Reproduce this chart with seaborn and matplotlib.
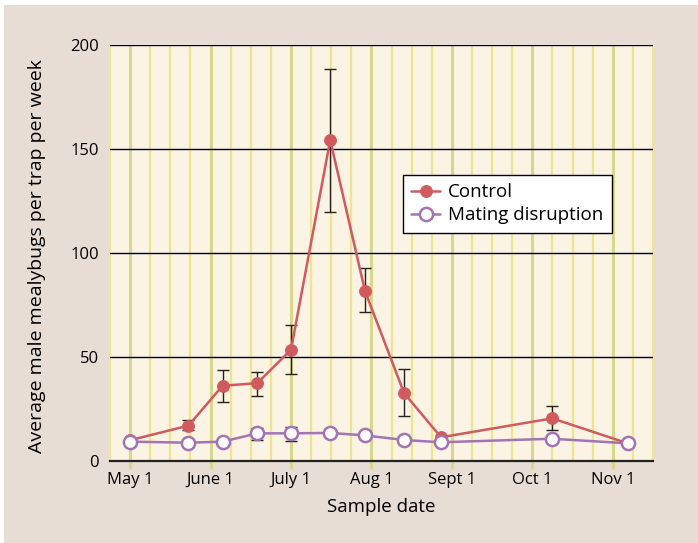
import matplotlib
matplotlib.use("Agg")
import matplotlib.pyplot as plt
import seaborn as sns
import pandas as pd
from matplotlib.patches import Rectangle

# ---- data (x = weeks since May 1) ----
weeks = [0, 2.9, 4.6, 6.32, 8.0, 9.95, 11.68, 13.62, 15.46, 20.99, 24.74]
control = [10, 17, 36.2, 37.4, 53.5, 154.3, 81.7, 32.7, 11.4, 20.5, 8.5]
control_hi = [None, 19.5, 43.8, 42.8, 65.2, 188.6, 92.8, 44.1, None, 26.3, None]
control_lo = [None, 15.0, 28.4, 31.1, 42.0, 119.6, 71.6, 21.5, None, 14.9, None]
mating = [9.3, 8.8, 9.3, 13.3, 13.3, 13.5, 12.3, 10.1, 9.0, 10.7, 8.5]
mating_hi = [None, None, None, 16.0, 16.5, None, None, None, None, None, None]
mating_lo = [None, None, None, 10.1, 9.6, None, None, None, None, None, None]
month_labels = ["May 1", "June 1", "July 1", "Aug 1", "Sept 1", "Oct 1", "Nov 1"]
month_pos = [0, 4, 8, 12, 16, 20, 24]
series_names = ["Control", "Mating disruption"]

sns.set_style("white")
plt.rcParams["font.family"] = ["Open Sans", "DejaVu Sans"]
for k in ["text.color", "axes.labelcolor", "xtick.color", "ytick.color"]:
    plt.rcParams[k] = "black"

fig = plt.figure(figsize=(6.98, 5.43), dpi=100)
fig.patch.set_facecolor("white")
fig.patches.append(Rectangle((4 / 698, 0), 1, 1 - 5 / 543, transform=fig.transFigure,
                             facecolor="#e8ddd4", edgecolor="none", zorder=-10))
ax = fig.add_axes([110 / 698, 1 - 461 / 543, (653 - 110) / 698, (461 - 45) / 543])
ax.set_facecolor("#fbf3e4")

df = pd.DataFrame({
    "week": weeks * 2,
    "value": control + mating,
    "series": [series_names[0]] * len(weeks) + [series_names[1]] * len(weeks),
})

red = "#d05a5e"
purple = "#a374b3"

# error bars
for vals, hi, lo in [(control, control_hi, control_lo), (mating, mating_hi, mating_lo)]:
    xs, ys, el, eh = [], [], [], []
    for x, v, h, l in zip(weeks, vals, hi, lo):
        if h is not None:
            xs.append(x); ys.append(v); el.append(v - l); eh.append(h - v)
    ax.errorbar(xs, ys, yerr=[el, eh], fmt="none", ecolor="#222222",
                elinewidth=1.0, capsize=4, capthick=1.0, zorder=2)

sns.lineplot(data=df[df.series == series_names[0]], x="week", y="value", ax=ax,
             color=red, lw=1.8, marker="o", markersize=8.5, markeredgecolor=red,
             markerfacecolor=red, label=series_names[0], zorder=3)
sns.lineplot(data=df[df.series == series_names[1]], x="week", y="value", ax=ax,
             color=purple, lw=1.8, marker="o", markersize=9.5, markeredgecolor=purple,
             markeredgewidth=1.8, markerfacecolor="white", label=series_names[1], zorder=4)

ax.set_xlim(-1, 26.0)
ax.set_ylim(0, 200)
ax.set_xticks(month_pos)
ax.set_xticklabels(month_labels)
ax.set_xticks(list(range(-1, 27)), minor=True)
ax.set_yticks([0, 50, 100, 150, 200])

ax.grid(False)
ax.xaxis.grid(True, which="minor", color="#efe58c", lw=1.6)
ax.xaxis.grid(True, which="major", color="#d9d88a", lw=2.2)
ax.yaxis.grid(True, which="major", color="black", lw=1.0)
ax.set_axisbelow(True)

ax.tick_params(axis="x", which="major", length=6, width=2.2, color="#d9d88a",
               direction="out", labelsize=12, pad=2, bottom=True)
ax.tick_params(axis="x", which="minor", length=0)
ax.tick_params(axis="y", length=0, labelsize=12, pad=8)

for s in ["left", "right", "top"]:
    ax.spines[s].set_visible(False)
ax.spines["bottom"].set_color("#222222")
ax.spines["bottom"].set_linewidth(1.6)
ax.spines["bottom"].set_zorder(5)

ax.set_xlabel("Sample date", fontsize=13.5, labelpad=7)
ax.set_ylabel("Average male mealybugs per trap per week", fontsize=14)
ax.yaxis.set_label_coords(-0.118, 0.492)

leg = ax.legend(loc="upper left", bbox_to_anchor=((403 - 110) / 543, 1 - (175 - 45) / 416),
                borderaxespad=0, fontsize=13.5, frameon=True, fancybox=False, framealpha=1,
                edgecolor="black", borderpad=0.45, handlelength=1.5, handletextpad=0.45,
                labelspacing=0.25)
leg.get_frame().set_linewidth(1.0)

fig.savefig("out.png", dpi=100, facecolor=fig.get_facecolor())
